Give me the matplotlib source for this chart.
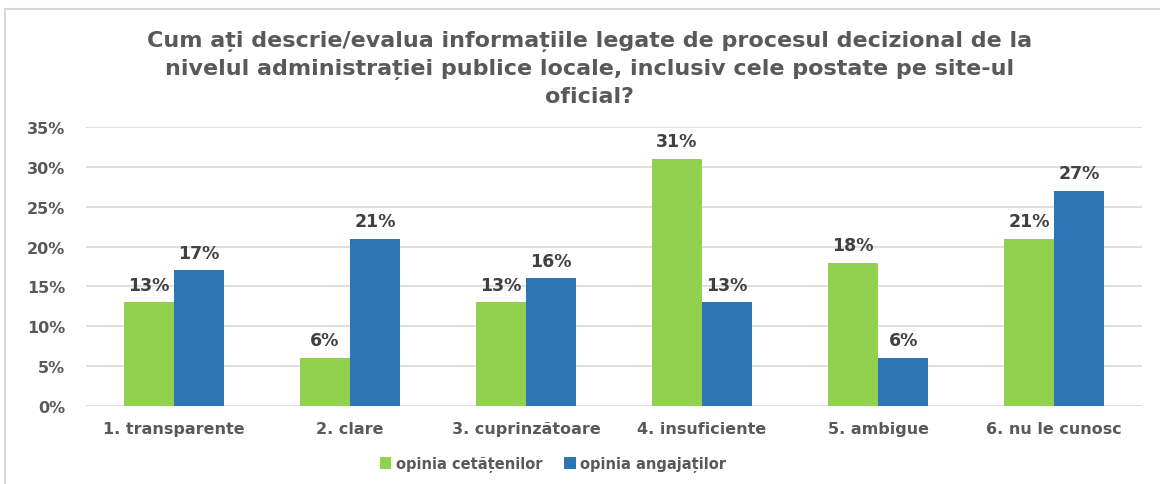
import matplotlib
matplotlib.use("Agg")
import matplotlib.pyplot as plt
import numpy as np
from matplotlib.patches import Rectangle

categories = ["1. transparente", "2. clare", "3. cuprinzătoare",
              "4. insuficiente", "5. ambigue", "6. nu le cunosc"]
cetateni = [13, 6, 13, 31, 18, 21]
angajati = [17, 21, 16, 13, 6, 27]
series_names = ["opinia cetățenilor", "opinia angajaților"]
yticks = [0, 5, 10, 15, 20, 25, 30, 35]

GREEN = "#92D050"
BLUE = "#2E75B6"
TXT = "#595959"
LBL = "#404040"

fig = plt.figure(figsize=(11.6, 4.85), dpi=100)
ax = fig.add_axes([86 / 1160, 1 - 407 / 485, (1142 - 86) / 1160, (407 - 128) / 485])

# cadru gri al graficului
fig.patches.append(Rectangle((5 / 1160, -0.1), 1.2, 1 - 10 / 485 + 0.1,
                             transform=fig.transFigure, fill=False,
                             edgecolor="#d9d9d9", linewidth=1.5))

x = np.arange(len(categories))
w = 0.285
b1 = ax.bar(x - w / 2, cetateni, w, color=GREEN, label=series_names[0], zorder=3)
b2 = ax.bar(x + w / 2, angajati, w, color=BLUE, label=series_names[1], zorder=3)

for bars, vals in ((b1, cetateni), (b2, angajati)):
    for bar, v in zip(bars, vals):
        ax.text(bar.get_x() + bar.get_width() / 2, v + 1.1, f"{v}%",
                ha="center", va="bottom", fontsize=12.5, fontweight="bold",
                color=LBL, family="DejaVu Sans")

ax.set_xlim(-0.5, len(categories) - 0.5)
ax.set_ylim(0, 35)
ax.set_yticks(yticks)
ax.set_yticklabels([f"{t}%" for t in yticks])
ax.set_xticks(x)
ax.set_xticklabels(categories)
ax.tick_params(axis="both", length=0, labelsize=11.5, labelcolor=TXT)
ax.tick_params(axis="y", pad=15)
ax.tick_params(axis="x", pad=11)
for lab in ax.get_xticklabels() + ax.get_yticklabels():
    lab.set_fontweight("bold")
ax.grid(axis="y", color="#d9d9d9", linewidth=1.2, zorder=0)
for s in ax.spines.values():
    s.set_visible(False)

fig.text(0.508, 1 - 69 / 485,
         "Cum ați descrie/evalua informațiile legate de procesul decizional de la\n"
         "nivelul administrației publice locale, inclusiv cele postate pe site-ul\n"
         "oficial?",
         ha="center", va="center", fontsize=16, fontweight="bold", color=TXT,
         family="DejaVu Sans", linespacing=1.45)

fig.legend(loc="center", bbox_to_anchor=(553 / 1160, 1 - 465 / 485), ncol=2,
           frameon=False, handlelength=0.8, handleheight=0.8,
           handletextpad=0.3, columnspacing=1.5,
           prop={"weight": "bold", "size": 10.5})
for t in fig.legends[0].get_texts():
    t.set_color(TXT)

fig.savefig("out.png", dpi=100, facecolor="white")
